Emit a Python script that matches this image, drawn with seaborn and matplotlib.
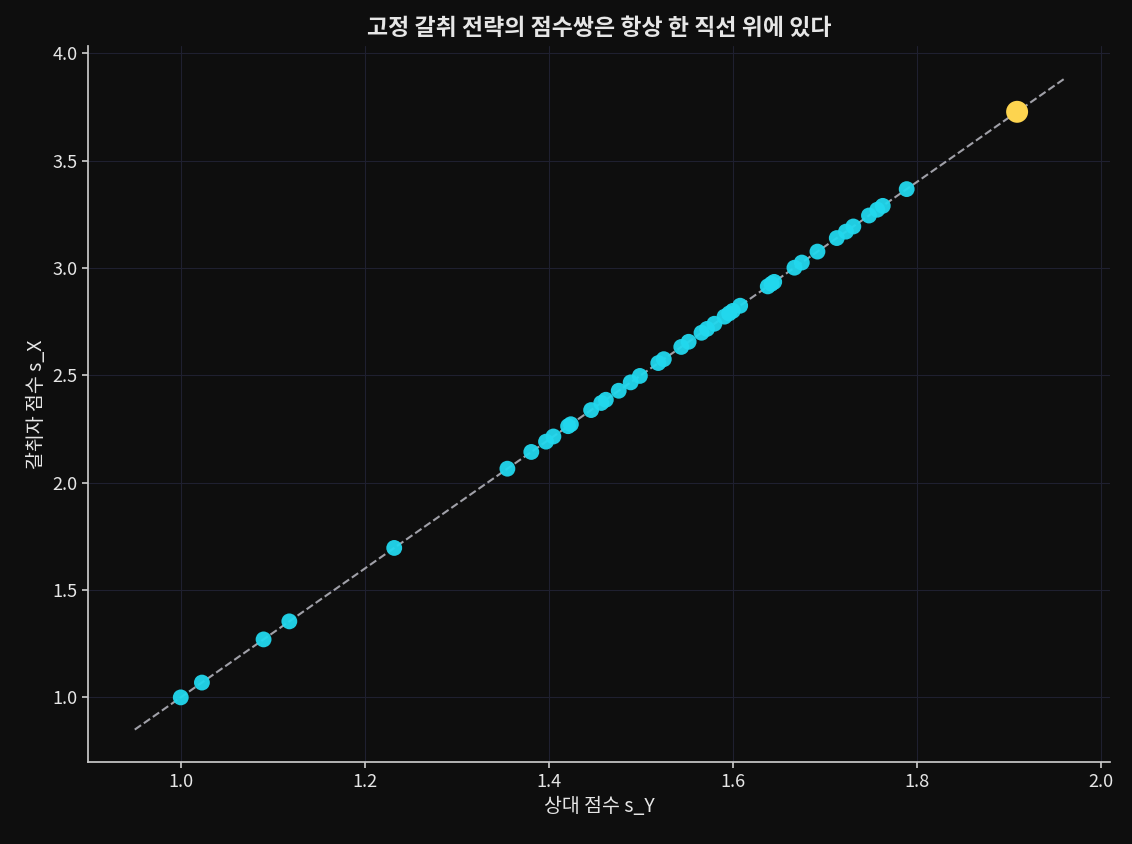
import pandas as pd
import seaborn as sns
import matplotlib.pyplot as plt

# 상대 점수 s_Y / 갈취자 점수 s_X
s_y = [1.000, 1.023, 1.090, 1.118, 1.232, 1.355, 1.381, 1.397, 1.405, 1.421,
       1.424, 1.446, 1.457, 1.462, 1.476, 1.489, 1.499, 1.519, 1.525, 1.544,
       1.552, 1.566, 1.572, 1.580, 1.591, 1.596, 1.600, 1.608, 1.638, 1.642,
       1.645, 1.667, 1.675, 1.692, 1.713, 1.723, 1.731, 1.748, 1.757, 1.763,
       1.789]
s_x = [1.000, 1.069, 1.270, 1.354, 1.696, 2.065, 2.143, 2.191, 2.215, 2.263,
       2.272, 2.338, 2.371, 2.386, 2.428, 2.467, 2.497, 2.557, 2.575, 2.632,
       2.656, 2.698, 2.716, 2.740, 2.773, 2.788, 2.800, 2.824, 2.914, 2.926,
       2.935, 3.001, 3.025, 3.076, 3.139, 3.169, 3.193, 3.244, 3.271, 3.289,
       3.367]
best_y = [1.909]
best_x = [3.727]
line_y = [0.95, 1.96]
line_x = [0.85, 3.88]

bg = "#0e0e0e"
fg = "#e6e6e6"

sns.set_theme(style="dark", rc={
    "figure.facecolor": bg, "axes.facecolor": bg,
    "axes.edgecolor": "#c8c8c8", "axes.labelcolor": fg,
    "xtick.color": fg, "ytick.color": fg, "text.color": fg,
    "grid.color": "#1f2030",
    "xtick.bottom": True, "ytick.left": True,
})
plt.rcParams["font.family"] = ["Noto Sans CJK KR", "DejaVu Sans"]

fig, ax = plt.subplots(figsize=(11.32, 8.44), dpi=100)
fig.subplots_adjust(left=0.078, right=0.981, top=0.945, bottom=0.097)

pts = pd.DataFrame({"sy": s_y, "sx": s_x})
ref = pd.DataFrame({"sy": line_y, "sx": line_x})
best = pd.DataFrame({"sy": best_y, "sx": best_x})

sns.lineplot(data=ref, x="sy", y="sx", ax=ax, color="#a0a0a8",
             linestyle="--", linewidth=1.5, zorder=2)
sns.scatterplot(data=pts, x="sy", y="sx", ax=ax, color="#22d8ee",
                s=130, alpha=0.95, edgecolor="none", zorder=3)
sns.scatterplot(data=best, x="sy", y="sx", ax=ax, color="#fdd44f",
                s=250, edgecolor="none", zorder=4)

ax.grid(True, color="#1f2030", linewidth=0.8)
ax.set_axisbelow(True)
sns.despine(ax=ax)
ax.tick_params(labelsize=13, length=4, color="#c8c8c8")
ax.set_xlabel("상대 점수 s_Y", fontsize=14)
ax.set_ylabel("갈취자 점수 s_X", fontsize=14)
ax.set_title("고정 갈취 전략의 점수쌍은 항상 한 직선 위에 있다",
             fontsize=16.5, fontweight="bold", pad=8)

fig.savefig("out.png", facecolor=bg)
